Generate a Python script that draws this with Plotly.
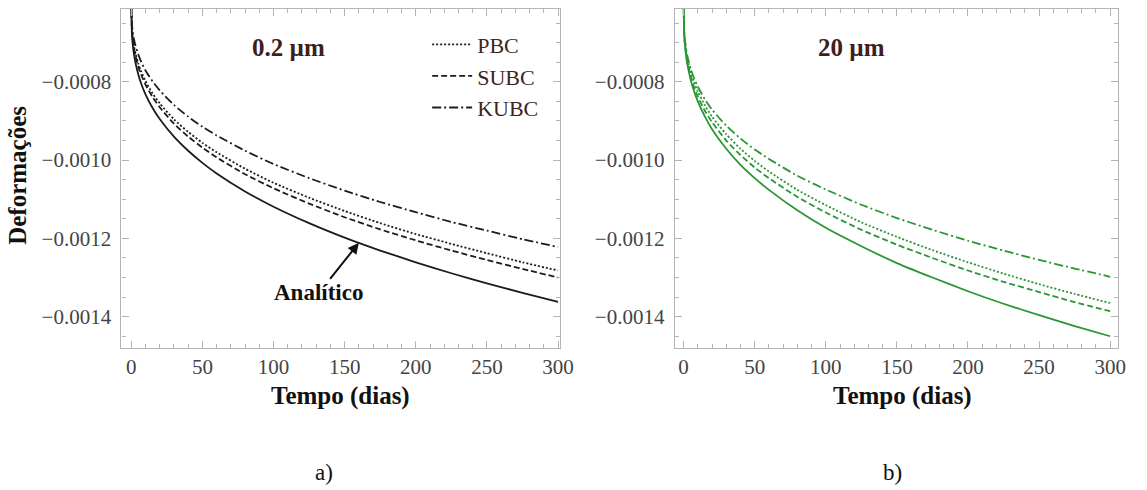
import numpy as np
import plotly.graph_objects as go

# ---------------- data ----------------
tempo = [0, 0.5, 1, 2, 3, 5, 7, 10, 15, 20, 30, 40, 50, 60, 80, 100,
         125, 150, 175, 200, 225, 250, 275, 300]

# panel a) 0.2 um
a_analitico = [-0.000600, -0.000681, -0.000704, -0.000732, -0.000752, -0.000782, -0.000805, -0.000832,
               -0.000867, -0.000895, -0.000940, -0.000976, -0.001007, -0.001034, -0.001080, -0.001119,
               -0.001161, -0.001198, -0.001231, -0.001261, -0.001289, -0.001315, -0.001339, -0.001362]
a_pbc = [-0.000600, -0.000667, -0.000686, -0.000711, -0.000728, -0.000754, -0.000774, -0.000798,
         -0.000830, -0.000855, -0.000896, -0.000928, -0.000956, -0.000980, -0.001022, -0.001058,
         -0.001096, -0.001130, -0.001161, -0.001189, -0.001214, -0.001238, -0.001261, -0.001282]
a_subc = [-0.000600, -0.000671, -0.000691, -0.000716, -0.000735, -0.000762, -0.000782, -0.000807,
          -0.000839, -0.000865, -0.000907, -0.000940, -0.000968, -0.000993, -0.001036, -0.001072,
          -0.001111, -0.001146, -0.001177, -0.001205, -0.001231, -0.001255, -0.001278, -0.001300]
a_kubc = [-0.000600, -0.000655, -0.000671, -0.000693, -0.000708, -0.000731, -0.000749, -0.000771,
          -0.000799, -0.000822, -0.000859, -0.000889, -0.000915, -0.000937, -0.000976, -0.001010,
          -0.001046, -0.001078, -0.001107, -0.001133, -0.001158, -0.001180, -0.001202, -0.001222]

# panel b) 20 um
b_analitico = [-0.000600, -0.000685, -0.000709, -0.000740, -0.000762, -0.000795, -0.000820, -0.000850,
               -0.000889, -0.000921, -0.000971, -0.001012, -0.001046, -0.001076, -0.001128, -0.001173,
               -0.001220, -0.001263, -0.001300, -0.001335, -0.001367, -0.001396, -0.001424, -0.001450]
b_pbc = [-0.000600, -0.000677, -0.000698, -0.000726, -0.000746, -0.000775, -0.000798, -0.000825,
         -0.000860, -0.000889, -0.000934, -0.000971, -0.001002, -0.001029, -0.001076, -0.001115,
         -0.001159, -0.001196, -0.001230, -0.001261, -0.001290, -0.001317, -0.001342, -0.001365]
b_subc = [-0.000600, -0.000683, -0.000706, -0.000735, -0.000755, -0.000786, -0.000810, -0.000838,
          -0.000874, -0.000903, -0.000950, -0.000987, -0.001019, -0.001046, -0.001094, -0.001134,
          -0.001178, -0.001216, -0.001250, -0.001282, -0.001311, -0.001337, -0.001363, -0.001386]
b_kubc = [-0.000600, -0.000674, -0.000695, -0.000721, -0.000739, -0.000767, -0.000787, -0.000812,
          -0.000845, -0.000871, -0.000912, -0.000945, -0.000973, -0.000997, -0.001040, -0.001075,
          -0.001114, -0.001148, -0.001178, -0.001206, -0.001231, -0.001255, -0.001277, -0.001298]

x_ticks = [0, 50, 100, 150, 200, 250, 300]
y_ticks = [-0.0008, -0.0010, -0.0012, -0.0014]
y_ticktext = ["\u22120.0008", "\u22120.0010", "\u22120.0012", "\u22120.0014"]

# ---------------- figure ----------------
SERIF = "Liberation Serif"
BLACK = "#1c1c1c"
GREEN = "#2a9632"
DASH = {"Analítico": "solid", "PBC": "2px,2px", "SUBC": "6px,3px", "KUBC": "9px,3px,2px,3px"}

fig = go.Figure()

panels = [
    ("x", "y", BLACK, {"Analítico": a_analitico, "PBC": a_pbc, "SUBC": a_subc, "KUBC": a_kubc}, True),
    ("x2", "y2", GREEN, {"Analítico": b_analitico, "PBC": b_pbc, "SUBC": b_subc, "KUBC": b_kubc}, False),
]
for xa, ya, col, series, leg in panels:
    for name, vals in series.items():
        fig.add_trace(go.Scatter(
            x=tempo, y=vals, xaxis=xa, yaxis=ya, mode="lines", name=name,
            line=dict(color=col, width=1.8, dash=DASH[name], shape="spline", smoothing=0.6),
            showlegend=(leg and name != "Analítico"), hoverinfo="skip"))

frame_col = "#b4b4b4"
tick_font = dict(family=SERIF, size=21, color="#444444")


def xaxis_cfg(domain, rng, anchor):
    return dict(domain=domain, range=rng, anchor=anchor, tickvals=x_ticks,
                ticks="inside", ticklen=7, tickwidth=1, tickcolor=frame_col,
                minor=dict(tick0=0, dtick=10, ticks="inside", ticklen=4, tickcolor=frame_col, showgrid=False),
                showline=True, linecolor=frame_col, linewidth=1.2, mirror="ticks",
                showgrid=False, zeroline=False, tickfont=tick_font, ticklabelstandoff=0)


def yaxis_cfg(anchor):
    return dict(domain=[0.2898, 0.9816], range=[-0.00148, -0.000614], anchor=anchor,
                tickvals=y_ticks, ticktext=y_ticktext,
                ticks="inside", ticklen=7, tickwidth=1, tickcolor=frame_col,
                minor=dict(tick0=0, dtick=0.00005, ticks="inside", ticklen=4, tickcolor=frame_col, showgrid=False),
                showline=True, linecolor=frame_col, linewidth=1.2, mirror="ticks",
                showgrid=False, zeroline=False, tickfont=tick_font, ticklabelstandoff=5)


fig.update_layout(
    width=1147, height=490, margin=dict(l=0, r=0, t=0, b=0),
    paper_bgcolor="white", plot_bgcolor="white",
    xaxis=xaxis_cfg([0.1072, 0.4943], [-6.9, 301.4], "y"),
    yaxis=yaxis_cfg("x"),
    xaxis2=xaxis_cfg([0.5955, 0.9869], [-6.25, 305.6], "y2"),
    yaxis2=yaxis_cfg("x2"),
    legend=dict(x=0.377, y=0.952, xanchor="left", yanchor="top", bgcolor="rgba(0,0,0,0)",
                font=dict(family=SERIF, size=22, color="#3b2525"), tracegroupgap=0,
                itemwidth=40),
)


def pa(text, px, py, font, **kw):
    return dict(text=text, x=px / 1147, y=(490 - py) / 490, xref="paper", yref="paper",
                xanchor="center", yanchor="middle", showarrow=False, font=font, **kw)


title_font = dict(family=SERIF, size=25, color="#111111")
label_font = dict(family=SERIF, size=25, color="#3d1f1f")
ann = [
    pa("<b>Deformações</b>", 18, 175, title_font, textangle=-90),
    pa("<b>Tempo (dias)</b>", 345, 396, title_font),
    pa("<b>Tempo (dias)</b>", 914, 396, title_font),
    pa("<b>0.2 \u00b5m</b>", 292, 47, label_font),
    pa("<b>20 \u00b5m</b>", 862, 47, label_font),
    pa("a)", 328, 472, dict(family=SERIF, size=23, color="#111111")),
    pa("b)", 904, 472, dict(family=SERIF, size=23, color="#111111")),
    dict(text="<b>Analítico</b>", x=160, y=float(np.interp(160, tempo, a_analitico)), xref="x", yref="y",
         showarrow=True, ax=-40, ay=50, arrowhead=2, arrowsize=1.1, arrowwidth=2, arrowcolor="#111111",
         standoff=0, font=dict(family=SERIF, size=23, color="#111111")),
]
fig.update_layout(annotations=ann)

fig.write_html("out.html")
